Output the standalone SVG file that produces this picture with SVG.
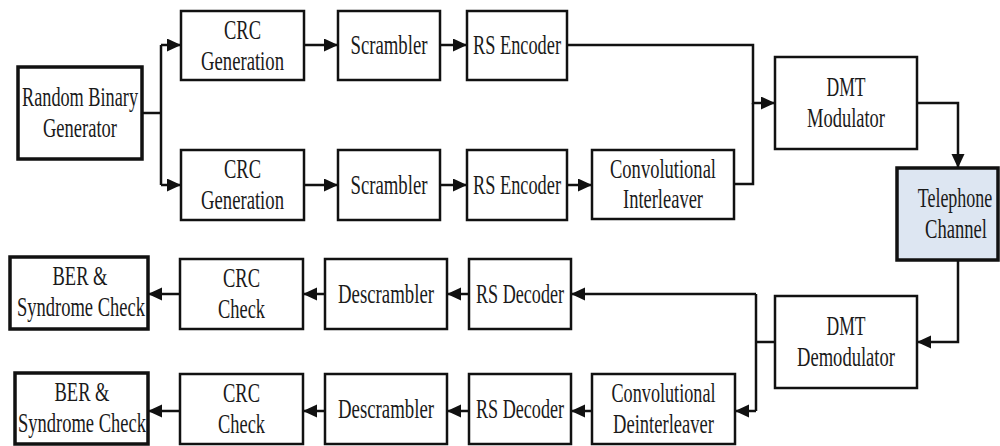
<svg xmlns="http://www.w3.org/2000/svg" width="1000" height="446" viewBox="0 0 1000 446">
<style>
.b{fill:#fff;stroke:#111;stroke-width:2.5}
.bt{fill:#fff;stroke:#111;stroke-width:3.5}
.tel{fill:#dde6f2;stroke:#111;stroke-width:3.5}
.t text{text-anchor:middle}
.c polyline{fill:none;stroke:#111;stroke-width:2.5}
</style>
<defs>
<marker id="a" markerUnits="userSpaceOnUse" markerWidth="15" markerHeight="14" refX="14" refY="6.5" orient="auto">
<path d="M0,0 L14,6.5 L0,13 z" fill="#111"/>
</marker>
</defs>
<rect width="1000" height="446" fill="#fff"/>
<g class="c" id="connectors">
<polyline points="142,113 161,113"/>
<polyline points="161,45 161,185"/>
<polyline points="161,45 181,45" marker-end="url(#a)"/>
<polyline points="161,185 181,185" marker-end="url(#a)"/>
<polyline points="304,45 338,45" marker-end="url(#a)"/>
<polyline points="440,45 467,45" marker-end="url(#a)"/>
<polyline points="304,185 338,185" marker-end="url(#a)"/>
<polyline points="440,185 467,185" marker-end="url(#a)"/>
<polyline points="567,185 592,185" marker-end="url(#a)"/>
<polyline points="567,45 753,45 753,103 775,103" marker-end="url(#a)"/>
<polyline points="734,184 753,184 753,103"/>
<polyline points="917,103 958,103 958,168" marker-end="url(#a)"/>
<polyline points="958,260 958,342 917,342" marker-end="url(#a)"/>
<polyline points="775,342 756,342"/>
<polyline points="756,294 756,411"/>
<polyline points="756,294 571,294" marker-end="url(#a)"/>
<polyline points="756,411 735,411" marker-end="url(#a)"/>
<polyline points="469,294 447,294" marker-end="url(#a)"/>
<polyline points="325,294 303,294" marker-end="url(#a)"/>
<polyline points="180,294 148,294" marker-end="url(#a)"/>
<polyline points="592,411 571,411" marker-end="url(#a)"/>
<polyline points="469,411 447,411" marker-end="url(#a)"/>
<polyline points="325,411 303,411" marker-end="url(#a)"/>
<polyline points="180,411 148,411" marker-end="url(#a)"/>
</g>
<g class="t" font-family="'Liberation Serif', 'Times New Roman', serif" font-size="27" fill="#1a1a1a">
<g id="rbg"><rect class="bt" x="18" y="67" width="124" height="92"/><text x="80" y="106" textLength="116" lengthAdjust="spacingAndGlyphs">Random Binary</text><text x="80" y="137" textLength="74" lengthAdjust="spacingAndGlyphs">Generator</text></g>
<g id="crcgen1"><rect class="b" x="181" y="11" width="123" height="69"/><text x="242.5" y="39" textLength="37" lengthAdjust="spacingAndGlyphs">CRC</text><text x="242.5" y="70" textLength="83" lengthAdjust="spacingAndGlyphs">Generation</text></g>
<g id="scr1"><rect class="b" x="338" y="11" width="102" height="69"/><text x="389" y="54" textLength="77" lengthAdjust="spacingAndGlyphs">Scrambler</text></g>
<g id="rse1"><rect class="b" x="467" y="11" width="100" height="69"/><text x="517" y="54" textLength="88" lengthAdjust="spacingAndGlyphs">RS Encoder</text></g>
<g id="crcgen2"><rect class="b" x="181" y="150" width="123" height="70"/><text x="242.5" y="178" textLength="37" lengthAdjust="spacingAndGlyphs">CRC</text><text x="242.5" y="209" textLength="83" lengthAdjust="spacingAndGlyphs">Generation</text></g>
<g id="scr2"><rect class="b" x="338" y="150" width="102" height="70"/><text x="389" y="194" textLength="77" lengthAdjust="spacingAndGlyphs">Scrambler</text></g>
<g id="rse2"><rect class="b" x="467" y="150" width="100" height="70"/><text x="517" y="194" textLength="88" lengthAdjust="spacingAndGlyphs">RS Encoder</text></g>
<g id="convint"><rect class="b" x="592" y="150" width="142" height="69"/><text x="663" y="178" textLength="106" lengthAdjust="spacingAndGlyphs">Convolutional</text><text x="663" y="208" textLength="80" lengthAdjust="spacingAndGlyphs">Interleaver</text></g>
<g id="dmtmod"><rect class="b" x="775" y="57" width="142" height="92"/><text x="846" y="96" textLength="39" lengthAdjust="spacingAndGlyphs">DMT</text><text x="846" y="127" textLength="78" lengthAdjust="spacingAndGlyphs">Modulator</text></g>
<g id="tel"><rect class="tel" x="897" y="168" width="101" height="92"/><text transform="translate(955,207) scale(0.667,1)" x="0" y="0">Telephone</text><text transform="translate(956,238) scale(0.689,1)" x="0" y="0">Channel</text></g>
<g id="dmtdemod"><rect class="b" x="775" y="296" width="142" height="92"/><text x="846" y="335" textLength="39" lengthAdjust="spacingAndGlyphs">DMT</text><text x="846" y="366" textLength="98" lengthAdjust="spacingAndGlyphs">Demodulator</text></g>
<g id="ber1"><rect class="bt" x="10" y="257" width="138" height="72"/><text x="80" y="285" textLength="55" lengthAdjust="spacingAndGlyphs">BER &amp;</text><text x="81" y="316" textLength="128" lengthAdjust="spacingAndGlyphs">Syndrome Check</text></g>
<g id="crcchk1"><rect class="b" x="180" y="259" width="123" height="70"/><text x="241.5" y="287" textLength="37" lengthAdjust="spacingAndGlyphs">CRC</text><text x="241.5" y="318" textLength="47" lengthAdjust="spacingAndGlyphs">Check</text></g>
<g id="descr1"><rect class="b" x="325" y="259" width="122" height="70"/><text x="386" y="303" textLength="96" lengthAdjust="spacingAndGlyphs">Descrambler</text></g>
<g id="rsd1"><rect class="b" x="469" y="259" width="102" height="70"/><text x="520" y="303" textLength="88" lengthAdjust="spacingAndGlyphs">RS Decoder</text></g>
<g id="ber2"><rect class="bt" x="15" y="373" width="133" height="71"/><text x="82" y="401" textLength="55" lengthAdjust="spacingAndGlyphs">BER &amp;</text><text x="82" y="432" textLength="128" lengthAdjust="spacingAndGlyphs">Syndrome Check</text></g>
<g id="crcchk2"><rect class="b" x="180" y="374" width="123" height="70"/><text x="241.5" y="402" textLength="37" lengthAdjust="spacingAndGlyphs">CRC</text><text x="241.5" y="433" textLength="47" lengthAdjust="spacingAndGlyphs">Check</text></g>
<g id="descr2"><rect class="b" x="325" y="374" width="122" height="70"/><text x="386" y="418" textLength="96" lengthAdjust="spacingAndGlyphs">Descrambler</text></g>
<g id="rsd2"><rect class="b" x="469" y="374" width="102" height="70"/><text x="520" y="418" textLength="88" lengthAdjust="spacingAndGlyphs">RS Decoder</text></g>
<g id="convdeint"><rect class="b" x="592" y="374" width="143" height="70"/><text x="663.5" y="402" textLength="104" lengthAdjust="spacingAndGlyphs">Convolutional</text><text x="663.5" y="433" textLength="101" lengthAdjust="spacingAndGlyphs">Deinterleaver</text></g>
</g>
</svg>
